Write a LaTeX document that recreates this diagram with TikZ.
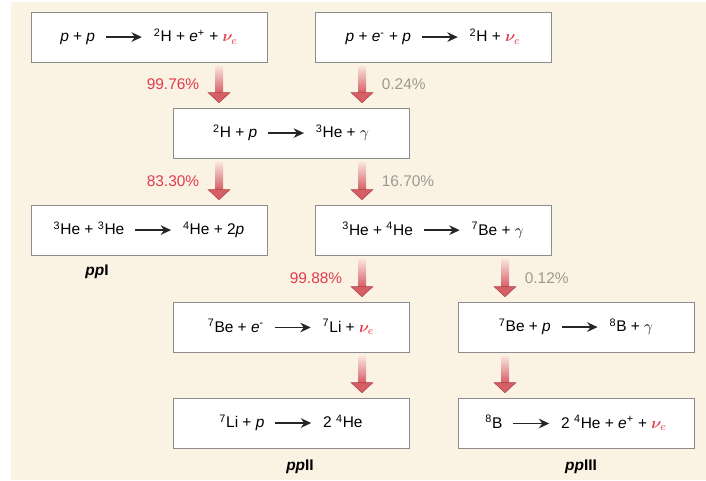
\documentclass[tikz,border=0pt]{standalone}
\usepackage{fontspec}
\setmainfont{Liberation Sans}
\usetikzlibrary{calc}
\usetikzlibrary{arrows.meta}
\definecolor{cream}{HTML}{FAF3E4}
\definecolor{boxgray}{HTML}{8C8C8C}
\definecolor{ratered}{HTML}{E23A4E}
\definecolor{rategray}{HTML}{9C9A90}
\definecolor{flowlight}{HTML}{F8E2DC}
\definecolor{flowred}{HTML}{D65F66}
\definecolor{flowdark}{HTML}{B2424A}

\newcommand\yields{\hspace{.25cm}\tikz[baseline=-.6ex]\draw[-{Stealth[length=2.6mm,width=2.4mm]},line width=1.1pt,draw=black!85] (0,0) -- (.9,0);\hspace{.28cm}}
\newcommand\nue{\textcolor{ratered}{$\boldsymbol{\nu}_e$}}
\newcommand\iso[2]{\textsuperscript{#1}#2}
\newcommand\flowarrow[3]{%
  \shade[top color=flowlight, bottom color=flowred] ($(#1.south -| #3)+(-.1,-.1)$) rectangle ($(#2.north -| #3)+(.1,.37)$);
  \filldraw[fill=flowred, draw=flowdark, line width=.4pt] ($(#2.north -| #3)+(-.27,.37)$) -- ($(#2.north -| #3)+(0,.12)$) -- ($(#2.north -| #3)+(.27,.37)$) -- cycle;}
\usepackage{amsmath}
\usepackage{bm}
\renewcommand\boldsymbol{\bm}

\begin{document}
\begin{tikzpicture}[box/.style={draw=boxgray, fill=white, line width=.7pt, minimum width=5.9cm, minimum height=1.25cm, font=\fontsize{11}{13}\selectfont},
  rate/.style={font=\fontsize{11}{13}\selectfont},
  chain/.style={font=\fontsize{11}{13}\selectfont\bfseries}]
\useasboundingbox (0,0) rectangle (17.65,-12);
\fill[cream] (.275,-.05) rectangle (17.65,-12);
% reactions
\node[box] (b1) at (3.725,-.925) {\textit{p} + \textit{p}\yields\iso{2}{H} + \textit{e}\textsuperscript{+} + \nue};
\node[box] (b2) at (10.825,-.925) {\textit{p} + \textit{e}\textsuperscript{-} + \textit{p}\yields\iso{2}{H} + \nue};
\node[box] (b3) at (7.275,-3.325) {\iso{2}{H} + \textit{p}\yields\iso{3}{He} + $\gamma$};
\node[box] (b4) at (3.725,-5.75) {\iso{3}{He} + \iso{3}{He}\yields\iso{4}{He} + 2\textit{p}};
\node[box] (b5) at (10.825,-5.75) {\iso{3}{He} + \iso{4}{He}\yields\iso{7}{Be} + $\gamma$};
\node[box] (b6) at (7.275,-8.175) {\iso{7}{Be} + \textit{e}\textsuperscript{-}\yields\iso{7}{Li} + \nue};
\node[box] (b7) at (14.4,-8.175) {\iso{7}{Be} + \textit{p}\yields\iso{8}{B} + $\gamma$};
\node[box] (b8) at (7.275,-10.575) {\iso{7}{Li} + \textit{p}\yields 2 \iso{4}{He}};
\node[box] (b9) at (14.4,-10.575) {\iso{8}{B}\yields 2 \iso{4}{He} + \textit{e}\textsuperscript{+} + \nue};
% branch names
\node[chain] (ppI) at (2.425,-6.8) {\textit{pp}I};
\node[chain] (ppII) at (7.5,-11.675) {\textit{pp}II};
\node[chain] (ppIII) at (14.525,-11.675) {\textit{pp}III};
% flow
\coordinate (c1) at (5.475,0);
\coordinate (c2) at (9.05,0);
\coordinate (c3) at (12.625,0);
\flowarrow{b1}{b3}{c1}
\flowarrow{b2}{b3}{c2}
\flowarrow{b3}{b4}{c1}
\flowarrow{b3}{b5}{c2}
\flowarrow{b5}{b6}{c2}
\flowarrow{b5}{b7}{c3}
\flowarrow{b6}{b8}{c2}
\flowarrow{b7}{b9}{c3}
% branching ratios
\node[rate, ratered, anchor=east] (r1) at (5.105,-2.11) {99.76\%};
\node[rate, rategray, anchor=west] (r2) at (9.42,-2.11) {0.24\%};
\node[rate, ratered, anchor=east] (r3) at (5.105,-4.54) {83.30\%};
\node[rate, rategray, anchor=west] (r4) at (9.42,-4.54) {16.70\%};
\node[rate, ratered, anchor=east] (r5) at (8.68,-6.96) {99.88\%};
\node[rate, rategray, anchor=west] (r6) at (12.995,-6.96) {0.12\%};
\end{tikzpicture}
\end{document}
